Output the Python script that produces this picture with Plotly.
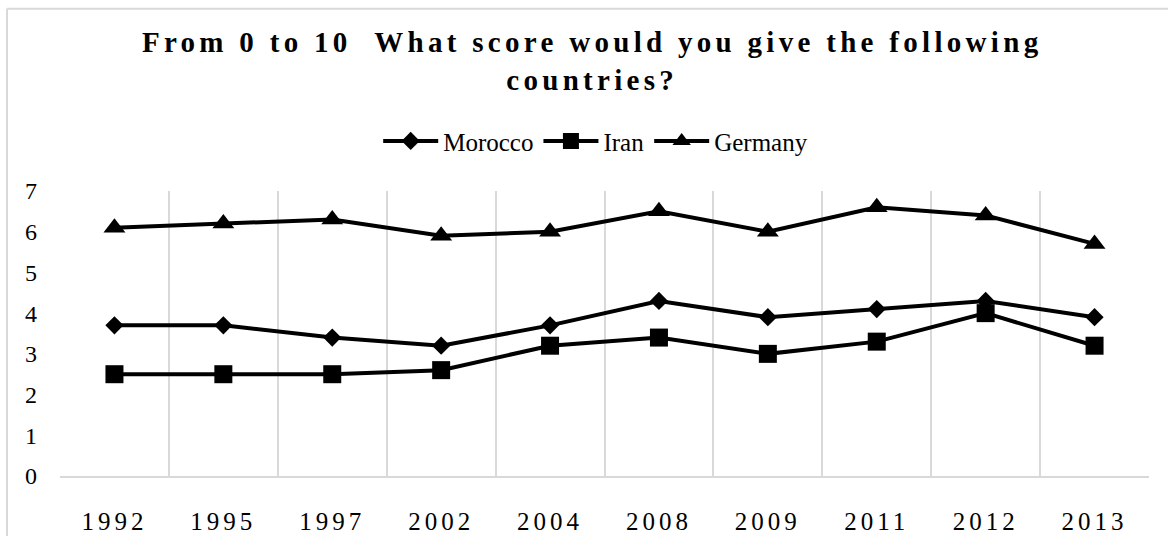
import plotly.graph_objects as go

# Survey years (category axis) and mean scores per country
years = ["1992", "1995", "1997", "2002", "2004", "2008", "2009", "2011", "2012", "2013"]
morocco = [3.7, 3.7, 3.4, 3.2, 3.7, 4.3, 3.9, 4.1, 4.3, 3.9]
iran = [2.5, 2.5, 2.5, 2.6, 3.2, 3.4, 3.0, 3.3, 4.0, 3.2]
germany = [6.1, 6.2, 6.3, 5.9, 6.0, 6.5, 6.0, 6.6, 6.4, 5.7]
y_ticks = [0, 1, 2, 3, 4, 5, 6, 7]

SERIF = "Liberation Serif, Times New Roman, serif"
GRID = "#d9d9d9"

series = [
    ("Morocco", morocco, "diamond", 14),
    ("Iran", iran, "square", 18),
    ("Germany", germany, "triangle-up", 19),
]

fig = go.Figure()
for name, vals, sym, size in series:
    fig.add_trace(go.Scatter(
        x=years, y=vals, name=name, mode="lines+markers",
        line=dict(color="black", width=4),
        marker=dict(symbol=sym, size=size, color="black"),
        cliponaxis=False,
    ))

W, H = 1168, 547
ml, mr, mt, mb = 60, 19, 191, 62
pw, ph = W - ml - mr, H - mt - mb

# light grey frame around the chart area (top and left edges)
def px_to_paper_x(px):
    return (px - ml) / pw

def px_to_paper_y(py):
    return (H - mb - py) / ph

fig.add_shape(type="line", xref="paper", yref="paper",
              x0=px_to_paper_x(7), x1=px_to_paper_x(1168),
              y0=px_to_paper_y(3), y1=px_to_paper_y(3),
              line=dict(color=GRID, width=2))
fig.add_shape(type="line", xref="paper", yref="paper",
              x0=px_to_paper_x(7), x1=px_to_paper_x(7),
              y0=px_to_paper_y(3), y1=px_to_paper_y(547),
              line=dict(color=GRID, width=2))

fig.update_layout(
    width=W, height=H,
    margin=dict(l=ml, r=mr, t=mt, b=mb, pad=0),
    paper_bgcolor="white", plot_bgcolor="white",
    font=dict(family=SERIF, color="black"),
    title=dict(
        text="<b>From 0 to 10\u00a0 What score would you give the following<br>countries?</b>",
        font=dict(family=SERIF, size=29, color="black"),
        x=0.507, xanchor="center", xref="container",
        y=0.905, yanchor="middle", yref="container",
    ),
    legend=dict(
        orientation="h", x=0.51, xanchor="center", xref="container",
        y=0.742, yanchor="middle", yref="container",
        font=dict(family=SERIF, size=25, color="black"),
        itemwidth=55, traceorder="normal",
        bgcolor="rgba(0,0,0,0)",
    ),
    showlegend=True,
    xaxis=dict(
        type="category", categoryorder="array", categoryarray=years,
        range=[-0.5, len(years) - 0.5],
        tickson="boundaries", ticks="",
        showgrid=True, gridcolor=GRID, gridwidth=1.5,
        showline=True, linecolor=GRID, linewidth=2,
        tickfont=dict(family=SERIF, size=25, color="black"),
        ticklabelstandoff=22,
        zeroline=False,
    ),
    yaxis=dict(
        range=[0, 7], tickvals=y_ticks, ticktext=[str(v) for v in y_ticks],
        showgrid=False, zeroline=False, showline=False, ticks="",
        tickfont=dict(family=SERIF, size=24, color="black"),
        ticklabelstandoff=22,
    ),
)

spacing_js = """
var gd = document.getElementById('{plot_id}');
function applySpacing() {
  gd.querySelectorAll('.gtitle').forEach(function (t) { t.setAttribute('letter-spacing', '4.3px'); });
  gd.querySelectorAll('.xtick text').forEach(function (t) { t.setAttribute('letter-spacing', '4px'); });
}
applySpacing();
gd.on('plotly_afterplot', applySpacing);
"""

fig.write_html("out.html", post_script=spacing_js)
